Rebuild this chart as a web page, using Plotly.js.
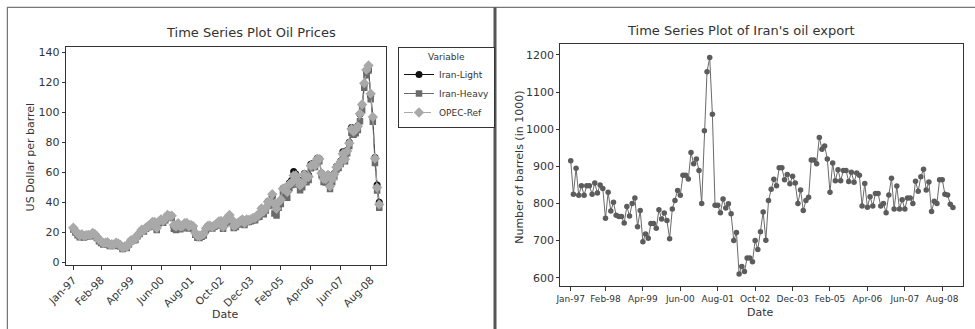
<!DOCTYPE html>
<html>
<head>
<meta charset="utf-8">
<script src="https://cdn.plot.ly/plotly-3.0.1.min.js"></script>
<style>
  html, body { margin: 0; padding: 0; background: #ffffff; }
  #chart { width: 975px; height: 329px; }
</style>
</head>
<body>
<div id="chart"></div>
<script>
// ---- categories ----
const monthNames = ['Jan','Feb','Mar','Apr','May','Jun','Jul','Aug','Sep','Oct','Nov','Dec'];
const yearLabels = ['97','98','99','00','01','02','03','04','05','06','07','08'];
const dates = [];
yearLabels.forEach(y => monthNames.forEach(m => dates.push(m + '-' + y)));

const tickLabels = ['Jan-97','Feb-98','Apr-99','Jun-00','Aug-01','Oct-02','Dec-03','Feb-05','Apr-06','Jun-07','Aug-08'];

// ---- oil prices (US$ per barrel) ----
const iranLight = [
  22.6, 20.6, 18.8, 17.4, 18.3, 17.3, 17.8, 18.1, 17.9, 19.2, 18.6, 16.9,
  14.8, 13.5, 12.5, 12.6, 13.0, 11.6, 11.7, 11.4, 12.7, 12.3, 11.2, 9.5,
  10.3, 10.0, 12.2, 14.6, 14.9, 15.3, 17.9, 19.3, 21.4, 21.1, 23.0, 24.0,
  24.5, 26.6, 26.5, 22.3, 26.8, 28.2, 27.2, 29.0, 31.2, 30.5, 30.8, 24.1,
  23.1, 25.6, 23.3, 23.7, 25.6, 26.0, 23.6, 24.5, 23.6, 19.4, 17.4, 17.2,
  18.0, 18.8, 22.3, 24.3, 24.3, 23.4, 24.5, 25.3, 27.0, 27.1, 23.3, 26.4,
  29.5, 31.0, 28.0, 24.0, 24.7, 26.2, 27.2, 28.4, 25.9, 28.1, 27.9, 28.3,
  29.2, 29.4, 31.2, 31.6, 35.7, 33.6, 36.2, 40.5, 40.6, 44.0, 38.2, 35.0,
  40.0, 41.6, 49.2, 49.9, 47.0, 52.8, 54.6, 60.6, 58.8, 55.2, 52.0, 53.5,
  59.2, 57.3, 58.0, 65.3, 65.8, 65.0, 69.4, 69.0, 59.6, 55.8, 55.6, 58.4,
  51.2, 55.8, 59.2, 63.8, 64.6, 67.6, 73.6, 69.5, 74.6, 80.0, 89.8, 88.1,
  88.9, 91.0, 98.6, 105.0, 118.8, 127.2, 128.2, 110.8, 96.5, 69.8, 51.5, 40.0
];
const iranHeavy = [
  21.9, 19.8, 18.0, 16.7, 17.7, 16.6, 17.1, 17.4, 17.3, 18.6, 17.9, 16.2,
  14.0, 12.8, 11.8, 11.9, 12.3, 10.9, 11.1, 10.8, 12.0, 11.6, 10.5, 8.9,
  9.8, 9.5, 11.8, 14.1, 14.3, 14.8, 17.3, 18.8, 20.9, 20.5, 22.4, 23.3,
  23.9, 25.9, 25.6, 21.6, 26.1, 27.4, 26.4, 28.1, 30.3, 29.5, 29.7, 22.3,
  21.6, 24.3, 22.1, 22.7, 24.6, 25.1, 22.6, 23.7, 22.6, 18.3, 16.4, 16.2,
  17.0, 17.9, 21.5, 23.5, 23.3, 22.6, 23.7, 24.6, 26.1, 26.1, 22.4, 25.4,
  28.3, 29.8, 26.7, 22.8, 23.5, 25.2, 26.4, 27.6, 24.8, 26.9, 26.8, 27.3,
  28.0, 28.1, 30.1, 30.4, 34.3, 32.0, 34.6, 38.6, 37.6, 41.0, 32.6, 31.2,
  36.4, 38.8, 46.0, 45.8, 43.0, 49.4, 51.5, 56.4, 55.7, 51.8, 48.0, 50.0,
  55.6, 53.4, 54.8, 62.7, 63.6, 63.5, 67.2, 67.3, 58.0, 53.6, 53.2, 56.6,
  48.8, 53.6, 56.8, 61.8, 62.8, 65.6, 71.2, 67.4, 72.6, 77.5, 86.4, 85.0,
  86.0, 88.2, 94.0, 101.2, 116.4, 124.6, 127.8, 108.6, 93.6, 66.2, 47.8, 36.4
];
const opecRef = [
  23.0, 21.1, 19.3, 17.8, 18.7, 17.6, 18.0, 18.3, 18.2, 19.6, 18.9, 17.2,
  15.1, 14.0, 12.9, 13.0, 13.4, 11.8, 12.1, 11.8, 13.0, 12.5, 11.5, 9.7,
  10.6, 10.3, 12.6, 14.7, 15.0, 15.5, 18.1, 19.6, 21.7, 21.3, 23.2, 24.2,
  24.8, 26.9, 26.9, 22.9, 27.2, 28.5, 27.5, 29.3, 31.6, 30.8, 31.1, 24.8,
  23.8, 26.0, 23.8, 24.0, 26.0, 26.3, 24.0, 24.9, 24.0, 19.7, 17.7, 17.5,
  18.3, 19.0, 22.6, 24.4, 24.4, 23.6, 24.8, 25.5, 27.2, 27.5, 23.7, 26.8,
  29.8, 31.5, 28.5, 24.3, 24.9, 26.4, 27.4, 28.6, 26.2, 28.5, 28.2, 28.6,
  29.5, 29.6, 31.4, 31.8, 35.9, 34.0, 36.3, 40.3, 40.4, 45.4, 38.9, 35.7,
  40.2, 41.7, 49.1, 49.6, 46.9, 52.0, 53.1, 57.8, 57.9, 54.6, 51.3, 52.7,
  58.5, 56.6, 57.0, 64.4, 65.1, 64.6, 68.9, 68.8, 59.4, 55.6, 55.5, 58.3,
  50.7, 55.4, 58.7, 63.4, 64.4, 67.1, 72.4, 68.7, 74.2, 79.4, 88.8, 87.1,
  88.4, 90.6, 99.0, 105.2, 119.4, 128.3, 131.2, 112.4, 96.9, 69.2, 49.8, 38.6
];

// ---- Iran's oil export (barrels, in 1000) ----
const iranExport = [
  915, 825, 895, 822, 848, 822, 848, 848, 825, 855,
  828, 850, 840, 760, 830, 780, 803, 768, 765, 765,
  747, 792, 766, 800, 815, 737, 781, 697, 718, 706,
  746, 746, 733, 783, 758, 774, 754, 705, 785, 808,
  835, 822, 876, 876, 866, 937, 907, 920, 889, 800,
  996, 1155, 1193, 1040, 795, 795, 775, 812, 788, 799,
  772, 700, 722, 610, 630, 617, 653, 653, 643, 700,
  676, 724, 777, 701, 808, 838, 865, 848, 896, 896,
  864, 878, 853, 873, 855, 800, 836, 781, 808, 817,
  917, 917, 907, 978, 946, 955, 920, 830, 909, 861,
  891, 861, 889, 889, 859, 884, 857, 882, 876, 793,
  854, 790, 818, 793, 827, 827, 793, 800, 775, 823,
  868, 785, 847, 785, 810, 785, 815, 815, 800, 860,
  833, 872, 892, 836, 858, 778, 806, 800, 864, 864,
  825, 823, 798, 789
];

const priceTicks = [0, 20, 40, 60, 80, 100, 120, 140];
const exportTicks = [600, 700, 800, 900, 1000, 1100, 1200];

// ---- styling ----
const FONT = 'DejaVu Sans';
const TXT = '#333333';
const W = 975, H = 329;
const px = v => v / W;
const py = v => 1 - v / H;

const traces = [
  {
    x: dates, y: iranLight, name: 'Iran-Light', type: 'scatter', mode: 'lines+markers',
    line: { color: '#111111', width: 1 },
    marker: { symbol: 'circle', size: 7, color: '#111111' },
    xaxis: 'x', yaxis: 'y'
  },
  {
    x: dates, y: iranHeavy, name: 'Iran-Heavy', type: 'scatter', mode: 'lines+markers',
    line: { color: '#6b6b6b', width: 1 },
    marker: { symbol: 'square', size: 6.5, color: '#6b6b6b' },
    xaxis: 'x', yaxis: 'y'
  },
  {
    x: dates, y: opecRef, name: 'OPEC-Ref', type: 'scatter', mode: 'lines+markers',
    line: { color: '#a9a9a9', width: 1, dash: 'dash' },
    marker: { symbol: 'diamond', size: 8, color: '#a9a9a9' },
    xaxis: 'x', yaxis: 'y'
  },
  {
    x: dates, y: iranExport, name: 'Export', type: 'scatter', mode: 'lines+markers',
    line: { color: '#6a6a6a', width: 1 },
    marker: { symbol: 'circle', size: 5.5, color: '#5c5c5c' },
    xaxis: 'x2', yaxis: 'y2', showlegend: false
  }
];

const axisCommon = {
  showline: true, mirror: true, linecolor: '#333333', linewidth: 1,
  showgrid: false, zeroline: false, ticks: 'outside', tickcolor: '#333333',
  fixedrange: true, automargin: false
};

const layout = {
  width: W, height: H,
  margin: { l: 0, r: 0, t: 0, b: 0, pad: 0 },
  paper_bgcolor: '#ffffff', plot_bgcolor: '#ffffff',
  font: { family: FONT, color: TXT, size: 10 },
  showlegend: true,
  xaxis: Object.assign({}, axisCommon, {
    type: 'category', domain: [px(65.7), px(386.3)], anchor: 'y',
    range: [-3.55, 146.3], tickvals: tickLabels, ticktext: tickLabels,
    tickangle: -45, ticklen: 4, tickfont: { size: 10.5, color: TXT, family: FONT }
  }),
  yaxis: Object.assign({}, axisCommon, {
    domain: [py(265), py(47.3)], anchor: 'x',
    range: [-1.8, 143.3], tickvals: priceTicks, ticklen: 3,
    tickfont: { size: 11, color: TXT, family: FONT }
  }),
  xaxis2: Object.assign({}, axisCommon, {
    type: 'category', domain: [px(560.3), px(962.7)], anchor: 'y2',
    range: [-3.9, 146.65], tickvals: tickLabels, ticktext: tickLabels,
    tickangle: 0, ticklen: 4, tickfont: { size: 9, color: TXT, family: FONT }
  }),
  yaxis2: Object.assign({}, axisCommon, {
    domain: [py(286), py(43.7)], anchor: 'x2',
    range: [577.6, 1230.4], tickvals: exportTicks, ticklen: 3,
    tickfont: { size: 11, color: TXT, family: FONT }
  }),
  legend: {
    x: px(398), y: py(47.3), xanchor: 'left', yanchor: 'top',
    bordercolor: '#333333', borderwidth: 1, bgcolor: '#ffffff',
    font: { size: 9, color: TXT, family: FONT },
    title: { text: 'Variable', side: 'top center', font: { size: 9, color: TXT, family: FONT } },
    itemwidth: 30, tracegroupgap: 0
  },
  annotations: [
    { text: 'Time Series Plot Oil Prices', xref: 'paper', yref: 'paper', x: px(250.5), y: py(33),
      xanchor: 'center', yanchor: 'middle', showarrow: false, font: { size: 13, color: TXT, family: FONT } },
    { text: "Time Series Plot of Iran's oil export", xref: 'paper', yref: 'paper', x: px(740.5), y: py(30.7),
      xanchor: 'center', yanchor: 'middle', showarrow: false, font: { size: 13, color: TXT, family: FONT } },
    { text: 'US Dollar per barrel', xref: 'paper', yref: 'paper', x: px(30.7), y: py(156.7),
      xanchor: 'center', yanchor: 'middle', textangle: -90, showarrow: false, font: { size: 11, color: TXT, family: FONT } },
    { text: 'Number of barrels (in 1000)', xref: 'paper', yref: 'paper', x: px(519.3), y: py(167.5),
      xanchor: 'center', yanchor: 'middle', textangle: -90, showarrow: false, font: { size: 11, color: TXT, family: FONT } },
    { text: 'Date', xref: 'paper', yref: 'paper', x: px(225.5), y: py(314),
      xanchor: 'center', yanchor: 'middle', showarrow: false, font: { size: 11, color: TXT, family: FONT } },
    { text: 'Date', xref: 'paper', yref: 'paper', x: px(760.5), y: py(312.7),
      xanchor: 'center', yanchor: 'middle', showarrow: false, font: { size: 11, color: TXT, family: FONT } }
  ],
  shapes: [
    { type: 'line', xref: 'paper', yref: 'paper', x0: px(7.3), x1: 1, y0: py(7.3), y1: py(7.3),
      line: { color: '#555555', width: 1 } },
    { type: 'line', xref: 'paper', yref: 'paper', x0: px(7.3), x1: px(7.3), y0: 0, y1: py(7.3),
      line: { color: '#555555', width: 1 } },
    { type: 'line', xref: 'paper', yref: 'paper', x0: px(495), x1: px(495), y0: 0, y1: py(7.3),
      line: { color: '#555555', width: 3 } }
  ]
};

Plotly.newPlot('chart', traces, layout, { displayModeBar: false, staticPlot: true });
</script>
</body>
</html>
